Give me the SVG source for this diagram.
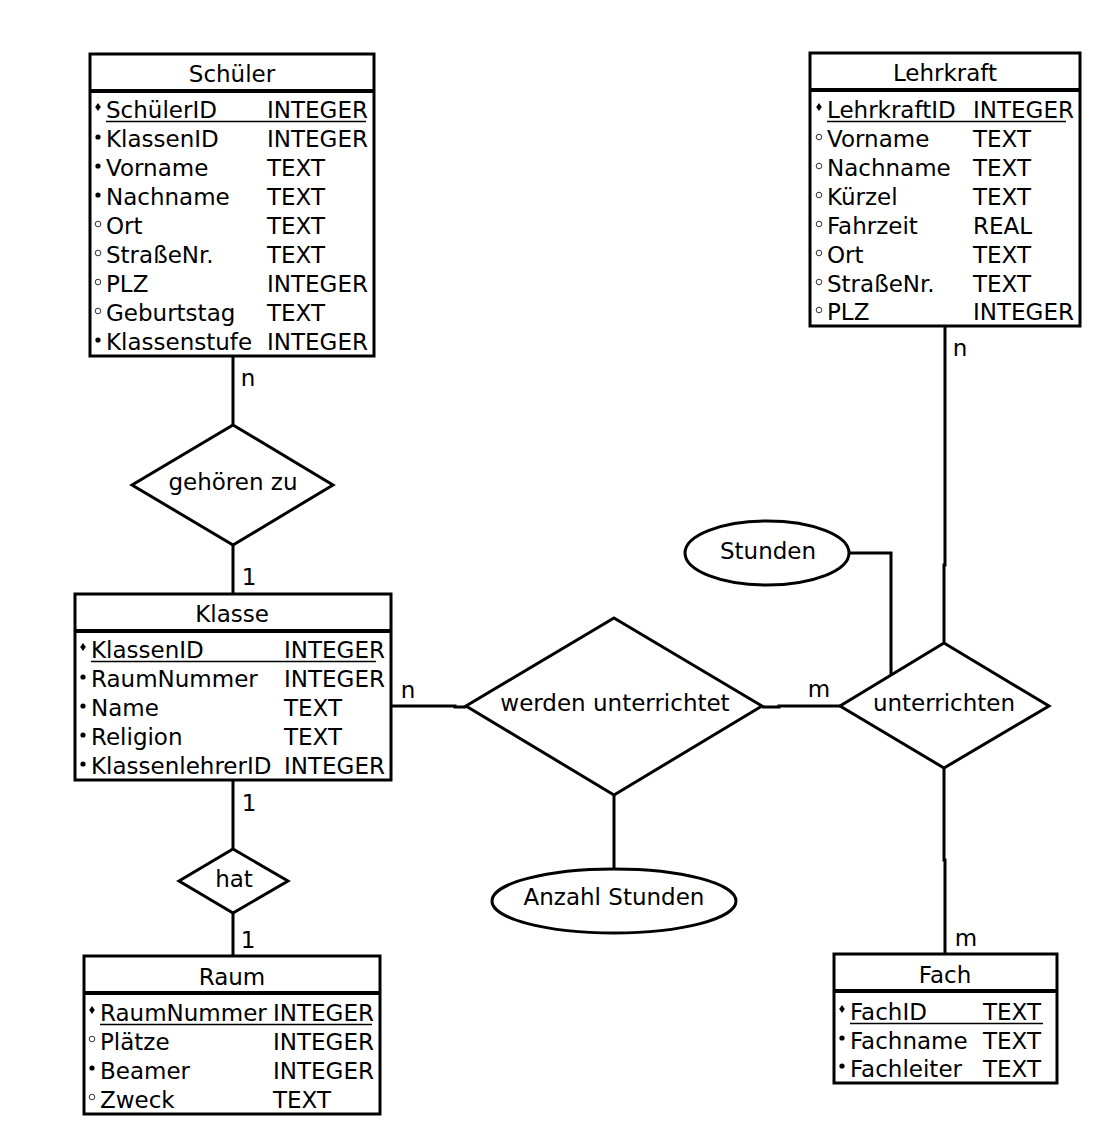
<svg xmlns="http://www.w3.org/2000/svg" width="1098" height="1134" viewBox="0 0 1098 1134">
<style>
  text { font-family: "DejaVu Sans", "Liberation Sans", sans-serif; font-size: 23px; fill: #000; }
  .box { fill: #fff; stroke: #000; stroke-width: 3; }
  .sep { stroke: #000; stroke-width: 4; }
  .ul { stroke: #000; stroke-width: 1.5; }
  .shape { fill: #fff; stroke: #000; stroke-width: 3; }
  .edge { fill: none; stroke: #000; stroke-width: 3; }
  .mid { text-anchor: middle; }
  .req { fill: #000; }
  .opt { fill: #fff; stroke: #000; stroke-width: 0.8; }
</style>
<defs>
  <circle id="req" r="2.6" class="req"/>
  <circle id="opt" r="2.8" class="opt"/>
  <path id="key" d="M0,-4 L2.8,0 L0,4 L-2.8,0 Z" class="req"/>
</defs>
<rect width="1098" height="1134" fill="#fff"/>

<!-- connectors -->
<g id="connectors">
  <path class="edge" d="M233,356 V425"/>
  <path class="edge" d="M233,545 V594"/>
  <path class="edge" d="M233,780 V849"/>
  <path class="edge" d="M233,913 V956"/>
  <path class="edge" d="M391,706 H455 V707 H466"/>
  <path class="edge" d="M762,707 H779 V706 H840"/>
  <path class="edge" d="M614,795 V869"/>
  <path class="edge" d="M945,326 V565 H944 V643"/>
  <path class="edge" d="M944,768 V860 H945 V954"/>
  <path class="edge" d="M849,553 H891 V675"/>
  <text x="248" y="386" class="mid">n</text>
  <text x="249" y="585" class="mid">1</text>
  <text x="249" y="811" class="mid">1</text>
  <text x="248" y="948" class="mid">1</text>
  <text x="408" y="698" class="mid">n</text>
  <text x="819" y="697" class="mid">m</text>
  <text x="960" y="356" class="mid">n</text>
  <text x="966" y="946" class="mid">m</text>
</g>

<!-- Schüler -->
<g id="schueler">
  <rect class="box" x="90" y="54" width="284" height="302"/>
  <line class="sep" x1="90" y1="91" x2="374" y2="91"/>
  <text x="232" y="82" class="mid">Schüler</text>
  <use href="#key" x="98" y="107"/>
  <use href="#req" x="98" y="137"/>
  <use href="#req" x="98" y="166"/>
  <use href="#req" x="98" y="195"/>
  <use href="#opt" x="98" y="224"/>
  <use href="#opt" x="98" y="253"/>
  <use href="#opt" x="98" y="282"/>
  <use href="#opt" x="98" y="311"/>
  <use href="#req" x="98" y="340"/>
  <text x="106" y="118">SchülerID</text><text x="267" y="118">INTEGER</text>
  <line class="ul" x1="106" y1="121.5" x2="366" y2="121.5"/>
  <text x="106" y="147">KlassenID</text><text x="267" y="147">INTEGER</text>
  <text x="106" y="176">Vorname</text><text x="267" y="176">TEXT</text>
  <text x="106" y="205">Nachname</text><text x="267" y="205">TEXT</text>
  <text x="106" y="234">Ort</text><text x="267" y="234">TEXT</text>
  <text x="106" y="263">StraßeNr.</text><text x="267" y="263">TEXT</text>
  <text x="106" y="292">PLZ</text><text x="267" y="292">INTEGER</text>
  <text x="106" y="321">Geburtstag</text><text x="267" y="321">TEXT</text>
  <text x="106" y="350">Klassenstufe</text><text x="267" y="350">INTEGER</text>
</g>

<!-- Lehrkraft -->
<g id="lehrkraft">
  <rect class="box" x="810" y="53" width="270" height="273"/>
  <line class="sep" x1="810" y1="90" x2="1080" y2="90"/>
  <text x="945" y="81" class="mid">Lehrkraft</text>
  <use href="#key" x="819" y="107"/>
  <use href="#opt" x="819" y="137"/>
  <use href="#opt" x="819" y="166"/>
  <use href="#opt" x="819" y="195"/>
  <use href="#opt" x="819" y="224"/>
  <use href="#opt" x="819" y="253"/>
  <use href="#opt" x="819" y="282"/>
  <use href="#opt" x="819" y="310"/>
  <text x="827" y="118">LehrkraftID</text><text x="973" y="118">INTEGER</text>
  <line class="ul" x1="827" y1="121.5" x2="1066" y2="121.5"/>
  <text x="827" y="147">Vorname</text><text x="973" y="147">TEXT</text>
  <text x="827" y="176">Nachname</text><text x="973" y="176">TEXT</text>
  <text x="827" y="205">Kürzel</text><text x="973" y="205">TEXT</text>
  <text x="827" y="234">Fahrzeit</text><text x="973" y="234">REAL</text>
  <text x="827" y="263">Ort</text><text x="973" y="263">TEXT</text>
  <text x="827" y="292">StraßeNr.</text><text x="973" y="292">TEXT</text>
  <text x="827" y="320">PLZ</text><text x="973" y="320">INTEGER</text>
</g>

<!-- gehören zu -->
<g id="gehoeren-zu">
  <path class="shape" d="M233,425 L333,485 L233,545 L132,485 Z"/>
  <text x="233" y="490" class="mid">gehören zu</text>
</g>

<!-- Klasse -->
<g id="klasse">
  <rect class="box" x="75" y="594" width="316" height="186"/>
  <line class="sep" x1="75" y1="631" x2="391" y2="631"/>
  <text x="232" y="622" class="mid">Klasse</text>
  <use href="#key" x="83" y="647"/>
  <use href="#req" x="83" y="677"/>
  <use href="#req" x="83" y="706"/>
  <use href="#req" x="83" y="735"/>
  <use href="#req" x="83" y="764"/>
  <text x="91" y="658">KlassenID</text><text x="284" y="658">INTEGER</text>
  <line class="ul" x1="91" y1="661.5" x2="376" y2="661.5"/>
  <text x="91" y="687">RaumNummer</text><text x="284" y="687">INTEGER</text>
  <text x="91" y="716">Name</text><text x="284" y="716">TEXT</text>
  <text x="91" y="745">Religion</text><text x="284" y="745">TEXT</text>
  <text x="91" y="774">KlassenlehrerID</text><text x="284" y="774">INTEGER</text>
</g>

<!-- hat -->
<g id="hat">
  <path class="shape" d="M233,849 L288,881 L233,913 L179,881 Z"/>
  <text x="234" y="887" class="mid">hat</text>
</g>

<!-- Raum -->
<g id="raum">
  <rect class="box" x="84" y="956" width="296" height="158"/>
  <line class="sep" x1="84" y1="993" x2="380" y2="993"/>
  <text x="232" y="985" class="mid">Raum</text>
  <use href="#key" x="92" y="1010"/>
  <use href="#opt" x="92" y="1039"/>
  <use href="#req" x="92" y="1068"/>
  <use href="#opt" x="92" y="1097"/>
  <text x="100" y="1021">RaumNummer</text><text x="273" y="1021">INTEGER</text>
  <line class="ul" x1="100" y1="1024.5" x2="372" y2="1024.5"/>
  <text x="100" y="1050">Plätze</text><text x="273" y="1050">INTEGER</text>
  <text x="100" y="1079">Beamer</text><text x="273" y="1079">INTEGER</text>
  <text x="100" y="1108">Zweck</text><text x="273" y="1108">TEXT</text>
</g>

<!-- werden unterrichtet -->
<g id="werden-unterrichtet">
  <path class="shape" d="M614,618 L762,706 L614,795 L466,706 Z"/>
  <text x="615" y="711" class="mid">werden unterrichtet</text>
</g>

<!-- Anzahl Stunden -->
<g id="anzahl-stunden">
  <ellipse class="shape" cx="614" cy="901" rx="122" ry="32"/>
  <text x="614" y="905" class="mid">Anzahl Stunden</text>
</g>

<!-- unterrichten -->
<g id="unterrichten">
  <path class="shape" d="M944,643 L1049,706 L944,768 L840,706 Z"/>
  <text x="944" y="711" class="mid">unterrichten</text>
</g>

<!-- Stunden -->
<g id="stunden">
  <ellipse class="shape" cx="767" cy="553" rx="82" ry="32"/>
  <text x="768" y="559" class="mid">Stunden</text>
</g>

<!-- Fach -->
<g id="fach">
  <rect class="box" x="834" y="954" width="223" height="129"/>
  <line class="sep" x1="834" y1="991" x2="1057" y2="991"/>
  <text x="945" y="983" class="mid">Fach</text>
  <use href="#key" x="842" y="1009"/>
  <use href="#req" x="842" y="1038"/>
  <use href="#req" x="842" y="1066"/>
  <text x="850" y="1020">FachID</text><text x="983" y="1020">TEXT</text>
  <line class="ul" x1="850" y1="1023.5" x2="1043" y2="1023.5"/>
  <text x="850" y="1049">Fachname</text><text x="983" y="1049">TEXT</text>
  <text x="850" y="1077">Fachleiter</text><text x="983" y="1077">TEXT</text>
</g>
</svg>
